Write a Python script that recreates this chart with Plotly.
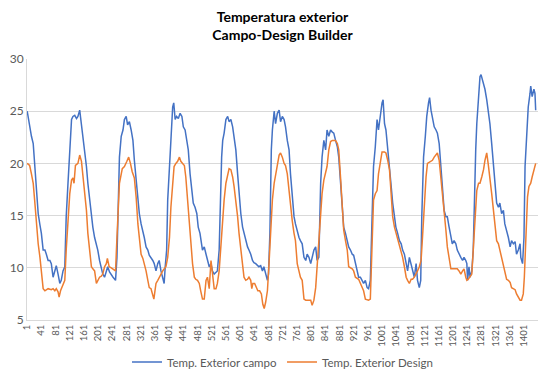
import plotly.graph_objects as go

TITLE = "<b>Temperatura exterior</b><br><b>Campo-Design Builder</b>"
SERIES_CAMPO = "Temp. Exterior campo"
SERIES_DESIGN = "Temp. Exterior Design"

x_ticks = list(range(1, 1402, 40))
x_labels = [str(v) for v in x_ticks]

campo_idx = [1, 8, 13, 18, 22, 27, 32, 37, 41, 46, 51, 55, 60, 65, 69, 74, 79, 83, 88, 93, 97, 102, 107, 111, 116, 121, 126, 130, 135, 140, 144, 149, 154, 158, 163, 168, 172, 177, 182, 186, 191, 196, 200, 205, 210, 214, 219, 224, 228, 233, 238,
             243, 250, 254, 258, 261, 266, 271, 275, 280, 284, 289, 294, 299, 303, 308, 313, 317, 322, 327, 331, 336, 341, 345, 350, 355, 359, 364, 369, 373, 378, 383, 387, 390, 394, 397, 402, 406, 411, 414, 418, 422, 427, 432, 437, 441, 446, 451, 455, 460, 465, 469, 474, 479, 483, 488,
             495, 500, 505, 509, 514, 519, 523, 528, 533, 537, 542, 545, 549, 552, 556, 561, 566, 570, 575, 580, 584, 589, 594, 598, 603, 608, 612, 617, 622, 626, 631, 636, 640, 645, 650, 654, 659, 664, 668, 673, 678, 681, 685, 689, 692, 697, 701, 706, 711, 715, 720, 725, 729, 734, 739, 743,
             748, 753, 757, 762, 767, 771, 776, 781, 786, 790, 795, 800, 804, 809, 814, 818, 823, 828, 832, 837, 842, 846, 851, 856, 861, 865, 870, 875, 879, 884, 889, 893, 898, 903, 907, 912, 917, 921, 926, 931, 935, 940, 945, 949, 954, 959, 963, 968, 973, 977, 982, 987, 991, 996,
             1001, 1004, 1008, 1012, 1017, 1022, 1026, 1031, 1036, 1040, 1045, 1050, 1055, 1059, 1064, 1069, 1073, 1078, 1083, 1087, 1092, 1097, 1101, 1106, 1110, 1113, 1118, 1123, 1127, 1132, 1135, 1139, 1143, 1148, 1153, 1157, 1162, 1167, 1171, 1176, 1181, 1185, 1190, 1195, 1199, 1204, 1209, 1213, 1218, 1223, 1228, 1232, 1237,
             1240, 1242, 1246, 1249, 1254, 1258, 1261, 1265, 1268, 1273, 1277, 1280, 1284, 1287, 1291, 1296, 1300, 1305, 1310, 1315, 1319, 1324, 1329, 1333, 1338, 1343, 1347, 1352, 1357, 1362, 1366, 1371, 1376, 1380, 1385, 1390, 1392, 1397, 1401, 1404, 1408, 1413, 1418, 1420, 1424, 1429, 1432, 1434]
campo_val = [25.0, 23.5, 22.6, 21.9, 20.0, 17.4, 15.2, 14.1, 13.3, 11.7, 11.7, 11.3, 10.7, 10.7, 10.4, 9.1, 9.7, 10.2, 9.4, 8.5, 8.8, 9.7, 10.1, 14.9, 18.1, 21.3, 24.2, 24.5, 24.6, 24.3, 24.5, 25.1, 23.8, 22.6, 21.3, 19.7, 18.1, 16.5, 15.2, 13.9, 12.9, 12.3, 11.7, 10.7, 10.1, 9.4, 9.1, 9.7, 10.1, 9.6, 9.4,
             9.1, 8.8, 11.0, 16.5, 20.6, 22.6, 23.2, 24.2, 24.5, 23.7, 24.0, 23.2, 22.2, 20.3, 18.4, 16.5, 15.2, 14.2, 13.6, 12.9, 12.0, 11.7, 11.2, 11.0, 10.7, 10.4, 9.7, 10.4, 10.7, 9.7, 9.1, 8.5, 10.1, 11.7, 16.5, 20.3, 22.2, 25.4, 25.8, 24.2, 24.5, 24.3, 24.8, 24.5, 23.5, 23.2, 22.2, 21.3, 19.0, 17.1, 16.2, 15.8, 15.2, 13.9, 13.3,
             11.7, 12.0, 11.3, 10.7, 10.1, 10.4, 9.7, 9.4, 9.6, 9.7, 11.7, 16.5, 20.6, 22.2, 22.9, 24.2, 24.5, 24.0, 24.2, 23.5, 22.6, 21.3, 19.0, 17.1, 15.2, 13.9, 13.3, 12.6, 12.0, 11.7, 11.3, 10.7, 10.5, 10.4, 10.2, 10.1, 10.2, 9.7, 10.1, 9.4, 8.8, 9.4, 13.3, 21.3, 23.2, 25.0, 23.8, 24.8, 25.1, 24.0, 24.5, 24.2, 23.5, 22.2, 21.3, 19.0,
             16.8, 14.9, 14.2, 13.4, 12.9, 12.6, 12.3, 11.0, 10.7, 11.3, 11.0, 10.4, 11.0, 11.7, 12.0, 10.7, 11.0, 18.1, 20.6, 22.2, 21.3, 23.2, 22.6, 23.2, 23.0, 22.9, 22.2, 21.6, 20.6, 18.4, 15.8, 13.9, 13.3, 12.6, 12.0, 11.7, 11.3, 11.2, 10.4, 9.4, 9.1, 9.1, 8.8, 8.5, 8.8, 8.1, 8.0, 8.8, 14.9, 19.7, 21.6, 24.2, 23.2, 24.8,
             25.8, 26.1, 23.8, 23.2, 21.6, 19.7, 18.1, 16.2, 14.6, 13.9, 13.3, 12.6, 12.3, 11.7, 11.3, 10.4, 9.7, 11.0, 10.4, 9.7, 9.1, 10.4, 8.8, 8.1, 8.8, 14.9, 20.6, 22.6, 24.5, 25.8, 26.3, 25.1, 24.5, 23.5, 23.2, 22.9, 21.9, 19.7, 17.4, 15.5, 14.9, 14.9, 13.9, 12.9, 12.3, 12.6, 12.3, 11.7, 11.3, 11.0, 10.7, 11.0, 10.7,
             10.4, 8.8, 10.1, 9.1, 9.7, 11.7, 17.4, 21.3, 23.8, 26.4, 28.3, 28.5, 28.0, 27.7, 27.1, 26.1, 25.1, 23.8, 21.9, 19.7, 17.8, 16.2, 15.8, 16.2, 15.2, 15.5, 14.2, 13.6, 12.9, 12.0, 12.6, 12.3, 12.5, 11.3, 11.7, 12.3, 11.0, 10.4, 12.9, 19.7, 22.9, 25.4, 26.7, 27.4, 26.4, 27.1, 26.7, 25.1]

design_idx = [1, 8, 13, 18, 22, 27, 32, 37, 41, 46, 51, 60, 69, 74, 79, 83, 88, 91, 95, 102, 107, 111, 116, 121, 126, 130, 133, 137, 144, 149, 154, 158, 163, 168, 172, 177, 182, 186, 191, 196, 200, 205, 210, 214, 219, 224, 227, 232, 238,
              250, 254, 258, 261, 269, 275, 282, 287, 292, 297, 303, 308, 313, 317, 322, 327, 331, 336, 341, 345, 350, 355, 358, 362, 364, 369, 373, 378, 383, 387, 392, 397, 402, 406, 411, 415, 420, 425, 430, 434, 439, 444, 448, 453, 458, 462, 467, 472, 476, 481, 486, 490,
              495, 500, 505, 509, 514, 519, 523, 528, 533, 537, 542, 547, 552, 556, 561, 566, 570, 575, 580, 584, 589, 594, 598, 603, 608, 612, 617, 622, 626, 631, 634, 637, 642, 647, 651, 656, 661, 665, 669, 673, 678, 682, 687, 692, 697, 701, 706, 711, 715, 720, 725, 729, 734, 739, 743,
              748, 753, 757, 762, 767, 771, 776, 781, 786, 795, 800, 804, 809, 814, 818, 823, 828, 832, 837, 842, 846, 851, 856, 861, 870, 875, 879, 884, 889, 893, 898, 903, 907, 917, 921, 926, 935, 940, 945, 949, 954, 963, 968, 973, 977, 982, 987, 991, 996,
              1001, 1008, 1012, 1017, 1022, 1026, 1031, 1036, 1040, 1045, 1050, 1055, 1059, 1064, 1069, 1073, 1078, 1083, 1087, 1092, 1097, 1101, 1106, 1111, 1115, 1120, 1125, 1129, 1134, 1139, 1143, 1148, 1153, 1157, 1162, 1167, 1171, 1176, 1181, 1185, 1190, 1195, 1204, 1213, 1218, 1223, 1228, 1232, 1237,
              1240, 1244, 1249, 1254, 1258, 1263, 1268, 1273, 1277, 1282, 1287, 1291, 1296, 1300, 1305, 1310, 1315, 1319, 1324, 1329, 1333, 1338, 1343, 1347, 1352, 1357, 1362, 1366, 1371, 1376, 1380, 1385, 1390, 1394, 1399, 1402, 1405, 1408, 1411, 1415, 1420, 1424, 1429, 1434]
design_val = [20.0, 19.8, 19.0, 18.1, 16.5, 14.2, 12.3, 11.0, 9.7, 8.0, 7.8, 8.0, 7.9, 8.0, 7.8, 8.0, 7.7, 7.2, 7.8, 8.5, 8.8, 11.7, 14.9, 17.1, 18.4, 18.6, 18.1, 19.8, 20.0, 20.8, 20.2, 19.0, 17.4, 15.5, 13.3, 11.3, 10.1, 9.9, 9.7, 8.5, 8.8, 9.1, 9.2, 9.4, 10.1, 10.4, 10.9, 10.1, 10.0,
              9.7, 12.9, 16.2, 18.1, 19.5, 19.7, 20.2, 20.6, 20.0, 19.2, 18.6, 16.8, 14.2, 12.9, 11.3, 10.9, 10.4, 9.7, 8.8, 8.1, 8.0, 7.5, 7.0, 8.0, 8.5, 8.8, 9.1, 9.4, 9.7, 9.9, 10.1, 11.0, 12.9, 15.8, 18.1, 19.7, 20.0, 20.2, 20.6, 20.2, 20.0, 19.8, 18.7, 16.5, 13.9, 11.7, 10.4, 9.1, 8.9, 8.8, 8.5, 7.8,
              7.0, 7.0, 8.8, 9.1, 8.0, 10.7, 9.7, 8.0, 8.0, 8.5, 9.7, 12.3, 14.9, 16.5, 18.1, 19.0, 19.5, 19.4, 18.7, 17.8, 16.5, 14.9, 13.3, 11.7, 10.4, 9.1, 8.8, 8.9, 9.1, 8.8, 8.0, 8.5, 8.5, 8.0, 7.8, 7.8, 7.5, 6.5, 6.1, 6.7, 7.8, 10.1, 13.6, 16.5, 18.1, 19.0, 20.0, 20.8, 21.0, 20.6, 20.0, 19.8, 19.0, 17.4, 15.5,
              14.5, 13.3, 12.6, 10.4, 9.7, 9.1, 8.8, 7.0, 6.9, 6.9, 6.9, 6.4, 6.9, 8.1, 10.1, 12.3, 14.9, 17.1, 18.4, 19.0, 19.7, 21.3, 22.1, 22.2, 22.2, 21.9, 21.3, 18.7, 16.2, 13.6, 12.6, 11.7, 10.1, 9.9, 9.7, 9.1, 8.9, 8.5, 8.1, 7.8, 7.0, 6.9, 7.0, 12.3, 16.5, 17.1, 17.4, 19.0, 20.3,
              21.1, 21.1, 21.0, 20.3, 19.4, 17.4, 14.9, 13.9, 13.4, 12.9, 12.3, 11.7, 11.0, 10.1, 9.1, 8.8, 8.5, 8.9, 8.9, 9.1, 9.4, 9.7, 10.1, 10.7, 12.9, 16.5, 18.7, 20.0, 20.1, 20.2, 20.3, 20.6, 20.8, 21.0, 20.3, 18.7, 17.1, 15.2, 13.6, 12.0, 10.7, 9.9, 9.9, 9.9, 9.7, 9.4, 9.7, 9.9, 9.1,
              8.8, 8.9, 9.1, 9.4, 11.7, 14.9, 17.4, 18.1, 18.1, 18.7, 19.4, 20.3, 21.0, 20.0, 18.7, 17.1, 15.5, 13.9, 12.6, 12.3, 11.7, 11.0, 10.4, 9.7, 8.9, 8.8, 8.6, 8.1, 8.0, 7.9, 7.5, 7.2, 6.9, 6.9, 7.5, 9.1, 12.3, 14.9, 16.8, 17.8, 18.1, 18.7, 19.4, 20.0]

FONT = "Lato, 'Open Sans', sans-serif"
GREY = "#595959"

fig = go.Figure()
fig.add_trace(go.Scatter(x=campo_idx, y=campo_val, mode="lines", name=SERIES_CAMPO,
                         line=dict(color="#4472C4", width=1.5)))
fig.add_trace(go.Scatter(x=design_idx, y=design_val, mode="lines", name=SERIES_DESIGN,
                         line=dict(color="#ED7D31", width=1.5)))

fig.update_layout(
    width=550, height=375,
    margin=dict(l=27, r=12, t=59, b=55, autoexpand=False),
    paper_bgcolor="white", plot_bgcolor="white",
    font=dict(family=FONT, color=GREY, size=11),
    title=dict(text=TITLE, x=0.5, xanchor="center", xref="paper", y=1 - 22 / 375, yref="container",
               yanchor="middle", automargin=False,
               font=dict(family=FONT, size=14, color="black")),
    showlegend=True,
    legend=dict(orientation="h", x=0.5, xanchor="center", yref="container", y=1 - 362 / 375,
                yanchor="middle", font=dict(family=FONT, size=11.5, color=GREY)),
    xaxis=dict(range=[0.5, 1440.5], tickmode="array", tickvals=x_ticks, ticktext=x_labels,
               tickangle=-90, tickfont=dict(size=9.5, color=GREY), showgrid=False,
               showline=True, linecolor="#d9d9d9", linewidth=1, ticks="", zeroline=False,
               automargin=False),
    yaxis=dict(range=[5, 30], dtick=5, tick0=5, showgrid=True, gridcolor="#d9d9d9", gridwidth=1,
               showline=True, linecolor="#d9d9d9", linewidth=1, ticks="", zeroline=False,
               tickfont=dict(size=12, color=GREY), automargin=False),
)

fig.write_html("out.html", config={"displayModeBar": False},
               post_script="document.body.style.margin='0';")
